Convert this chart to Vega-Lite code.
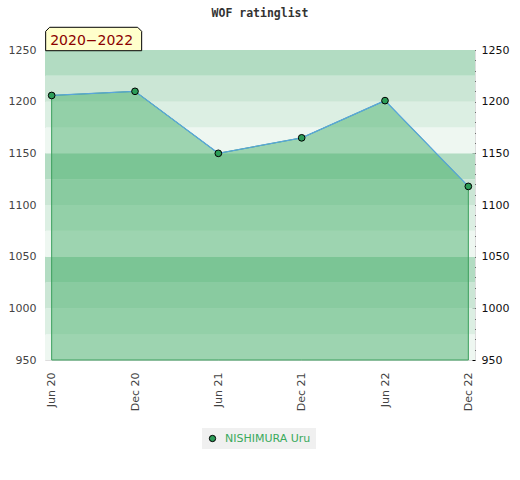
{
  "$schema": "https://vega.github.io/schema/vega-lite/v6.json",
  "autosize": "none",
  "width": 430,
  "height": 310,
  "padding": {"left": 45, "top": 50, "right": 45, "bottom": 120},
  "background": "white",
  "title": {"text": "WOF ratinglist", "font": "DejaVu Sans Mono", "fontSize": 11.5, "fontWeight": "bold", "color": "#333", "offset": 6, "anchor": "middle"},
  "config": {
    "view": {"stroke": "#dddddd"},
    "axis": {"labelFont": "DejaVu Sans", "labelFontSize": 11, "labelColor": "#444", "grid": false, "domain": false, "title": null}
  },
  "datasets": {
    "ratings": [
      {"month": "Jun 20", "rating": 1206, "player": "NISHIMURA Uru"},
      {"month": "Dec 20", "rating": 1210, "player": "NISHIMURA Uru"},
      {"month": "Jun 21", "rating": 1150, "player": "NISHIMURA Uru"},
      {"month": "Dec 21", "rating": 1165, "player": "NISHIMURA Uru"},
      {"month": "Jun 22", "rating": 1201, "player": "NISHIMURA Uru"},
      {"month": "Dec 22", "rating": 1118, "player": "NISHIMURA Uru"}
    ],
    "bands": [
      {"lo": 950, "hi": 975, "shade": "d"},
      {"lo": 975, "hi": 1000, "shade": "c"},
      {"lo": 1000, "hi": 1025, "shade": "b"},
      {"lo": 1025, "hi": 1050, "shade": "a"},
      {"lo": 1050, "hi": 1075, "shade": "d"},
      {"lo": 1075, "hi": 1100, "shade": "c"},
      {"lo": 1100, "hi": 1125, "shade": "b"},
      {"lo": 1125, "hi": 1150, "shade": "a"},
      {"lo": 1150, "hi": 1175, "shade": "d"},
      {"lo": 1175, "hi": 1200, "shade": "c"},
      {"lo": 1200, "hi": 1225, "shade": "b"},
      {"lo": 1225, "hi": 1250, "shade": "a"}
    ],
    "note": [
      {"month": "Jun 20", "label": "2020\u22122022"}
    ]
  },
  "layer": [
    {
      "data": {"name": "bands"},
      "mark": {"type": "rect"},
      "encoding": {
        "y": {"field": "lo", "type": "quantitative", "scale": {"domain": [950, 1250], "nice": false, "zero": false},
              "axis": {"orient": "left", "values": [950, 1000, 1050, 1100, 1150, 1200, 1250], "format": "d", "ticks": false, "tickSize": 0, "labelPadding": 9}},
        "y2": {"field": "hi"},
        "color": {"field": "shade", "type": "nominal", "scale": {"domain": ["a", "b", "c", "d"], "range": ["#b2dcc2", "#cbe6d5", "#dcefe3", "#eef7f1"]}, "legend": null}
      }
    },
    {
      "data": {"name": "ratings"},
      "mark": {"type": "area", "color": "#32a65a", "fillOpacity": 0.43, "stroke": "#3a9e5c", "strokeWidth": 1},
      "encoding": {
        "x": {"field": "month", "type": "ordinal", "sort": null,
              "scale": {"type": "point", "padding": 0.08, "domain": ["Jun 20", "Dec 20", "Jun 21", "Dec 21", "Jun 22", "Dec 22"]},
              "axis": {"labelAngle": -90, "labelAlign": "right", "labelBaseline": "middle", "ticks": false, "tickSize": 0, "labelPadding": 12}},
        "y": {"field": "rating", "type": "quantitative",
              "axis": {"orient": "right", "values": [950, 960, 970, 980, 990, 1000, 1010, 1020, 1030, 1040, 1050, 1060, 1070, 1080, 1090, 1100, 1110, 1120, 1130, 1140, 1150, 1160, 1170, 1180, 1190, 1200, 1210, 1220, 1230, 1240, 1250],
                       "labelExpr": "datum.value % 50 == 0 ? datum.value : ''", "labelOverlap": false, "labelColor": "#111",
                       "ticks": true, "tickSize": -3, "tickColor": "#000", "labelPadding": 9}},
        "y2": {"datum": 950}
      }
    },
    {
      "data": {"name": "ratings"},
      "mark": {"type": "line", "color": "#5aa6dc", "strokeWidth": 1.3},
      "encoding": {
        "x": {"field": "month", "type": "ordinal", "sort": null},
        "y": {"field": "rating", "type": "quantitative", "axis": null}
      }
    },
    {
      "data": {"name": "ratings"},
      "mark": {"type": "point", "filled": true, "opacity": 1, "stroke": "#000", "strokeWidth": 1, "size": 45},
      "encoding": {
        "x": {"field": "month", "type": "ordinal", "sort": null},
        "y": {"field": "rating", "type": "quantitative", "axis": null},
        "color": {"field": "player", "type": "nominal", "scale": {"range": ["#2c9d58"]},
                  "legend": {"orient": "none", "legendX": 157, "legendY": 378, "title": null, "fillColor": "#f0f0f0", "padding": 5,
                             "labelColor": "#3aaa5c", "labelFont": "DejaVu Sans", "labelFontSize": 11, "labelOffset": 7,
                             "symbolType": "circle", "symbolSize": 40, "symbolStrokeColor": "#000", "symbolStrokeWidth": 1, "symbolFillColor": "#2c9d58"}}
      }
    },
    {
      "data": {"name": "note"},
      "mark": {"type": "point", "shape": "M-1,0.244L-1,-0.16L-0.917,-0.244L0.917,-0.244L1,-0.16L1,0.244Z", "filled": true, "fill": "#ffffcc", "stroke": "#000", "strokeWidth": 1, "opacity": 1, "size": 9216},
      "encoding": {
        "x": {"field": "month", "type": "ordinal", "sort": null},
        "y": {"datum": 1250, "axis": null},
        "xOffset": {"value": 42},
        "yOffset": {"value": -11}
      }
    },
    {
      "data": {"name": "note"},
      "mark": {"type": "text", "font": "DejaVu Sans", "fontSize": 14, "color": "#8b0000", "align": "center", "baseline": "alphabetic"},
      "encoding": {
        "x": {"field": "month", "type": "ordinal", "sort": null},
        "y": {"datum": 1250, "axis": null},
        "xOffset": {"value": 40},
        "yOffset": {"value": -5},
        "text": {"field": "label"}
      }
    }
  ],
  "resolve": {"scale": {"color": "independent"}, "axis": {"y": "independent"}}
}
